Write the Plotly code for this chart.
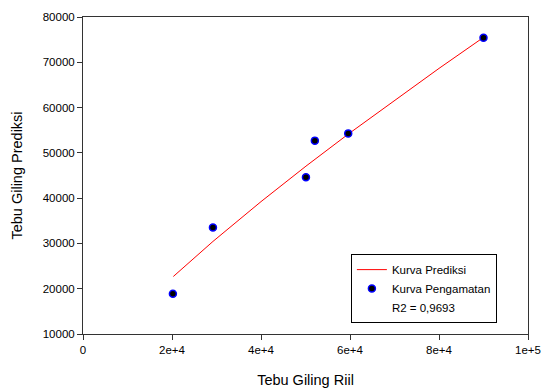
import plotly.graph_objects as go

# Observed data (Tebu Giling Riil vs Tebu Giling Prediksi)
obs_x = [20200, 29200, 50100, 52100, 59600, 90000]
obs_y = [18900, 33500, 44600, 52700, 54300, 75400]

# Prediction curve values
pred_x = [20300, 29200, 40000, 50100, 59600, 70000, 80000, 90000]
pred_y = [22700, 30440, 39230, 47060, 54140, 61640, 68650, 75500]

x_tickvals = [0, 20000, 40000, 60000, 80000, 100000]
x_ticktext = ["0", "2e+4", "4e+4", "6e+4", "8e+4", "1e+5"]
y_tickvals = [10000, 20000, 30000, 40000, 50000, 60000, 70000, 80000]
y_ticktext = ["10000", "20000", "30000", "40000", "50000", "60000", "70000", "80000"]

fig = go.Figure()
fig.add_trace(go.Scatter(
    x=pred_x, y=pred_y, mode="lines", name="Kurva Prediksi",
    line=dict(color="#ff0000", width=1),
))
fig.add_trace(go.Scatter(
    x=obs_x, y=obs_y, mode="markers", name="Kurva Pengamatan",
    marker=dict(color="black", size=7, line=dict(color="#0000ff", width=1.5)),
))
fig.add_trace(go.Scatter(
    x=[None], y=[None], mode="markers", name="R2 = 0,9693",
    marker=dict(color="rgba(0,0,0,0)", size=1),
))

font = "Liberation Sans, Arial, sans-serif"
fig.update_layout(
    width=549, height=388,
    margin=dict(l=83, r=21, t=17, b=54, autoexpand=False),
    paper_bgcolor="white", plot_bgcolor="white",
    font=dict(family=font, size=11.5, color="black"),
    showlegend=True,
    legend=dict(
        x=0.602, y=0.252, xanchor="left", yanchor="top",
        bordercolor="black", borderwidth=1, bgcolor="white",
        font=dict(family=font, size=11.5, color="black"),
        tracegroupgap=0, itemwidth=30,
    ),
    xaxis=dict(
        range=[0, 100000], tickvals=x_tickvals, ticktext=x_ticktext,
        showgrid=False, zeroline=False, automargin=False,
        showline=True, linecolor="#333", linewidth=1, mirror=True,
        ticks="outside", ticklen=5, tickcolor="#333",
        title=dict(text="Tebu Giling Riil", font=dict(family=font, size=14.5), standoff=22),
    ),
    yaxis=dict(
        range=[10000, 80000], tickvals=y_tickvals, ticktext=y_ticktext,
        showgrid=False, zeroline=False, automargin=False,
        showline=True, linecolor="#333", linewidth=1, mirror=True,
        ticks="outside", ticklen=5, tickcolor="#333",
        title=dict(text="Tebu Giling Prediksi", font=dict(family=font, size=14.5), standoff=16),
    ),
)

fig.write_html("out.html")
